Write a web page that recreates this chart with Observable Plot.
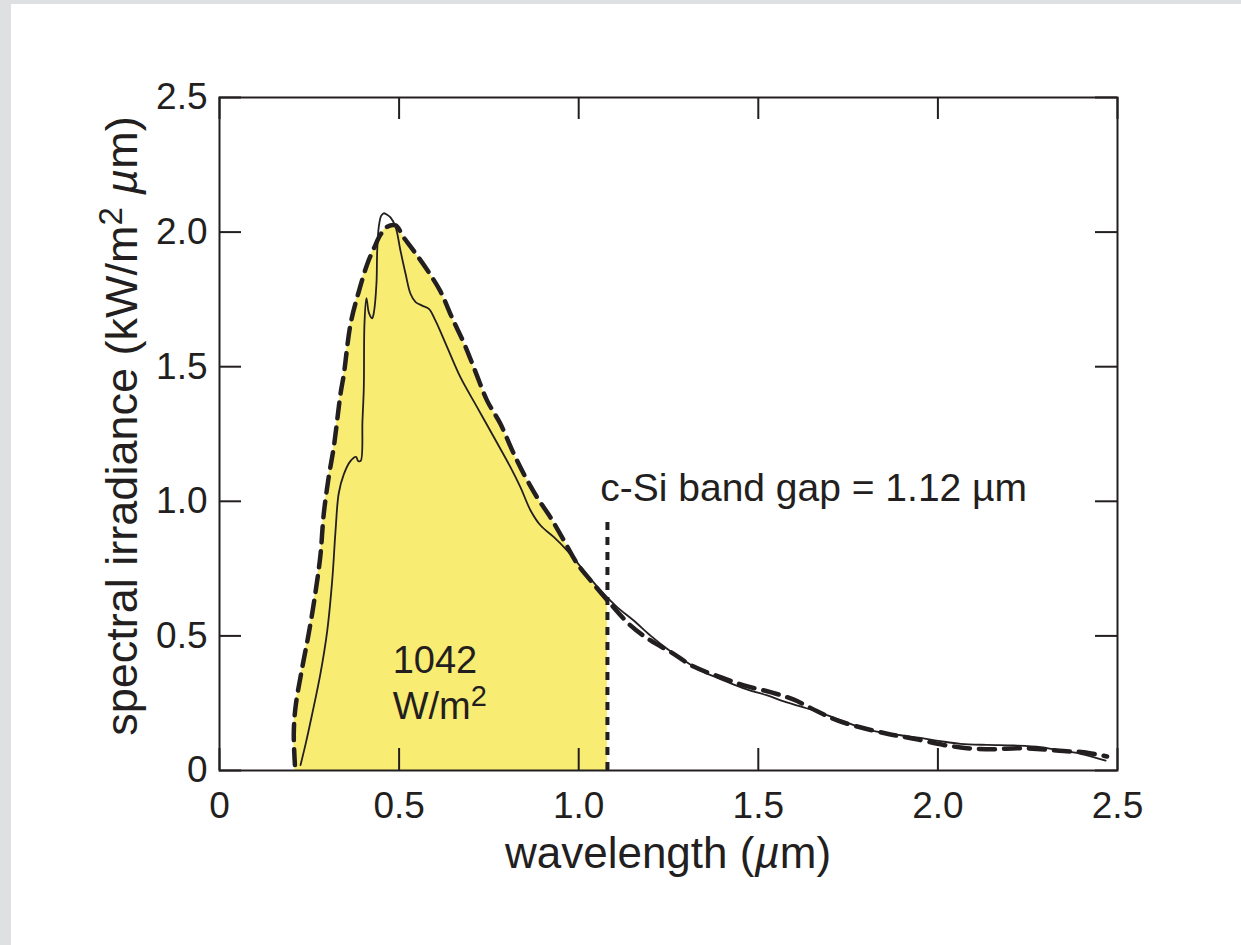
<!DOCTYPE html>
<html><head><meta charset="utf-8">
<script src="https://cdn.jsdelivr.net/npm/d3@7"></script>
<script src="https://cdn.jsdelivr.net/npm/@observablehq/plot@0.6"></script>
<style>
html,body{margin:0;padding:0;background:#dfe0e1;width:1241px;height:945px;overflow:hidden;}
#wrap{position:absolute;left:11px;top:4px;width:1230px;height:941px;background:#fff;}
svg{display:block}
</style></head><body><div id="wrap"></div>
<script>
// ---- data ----
const solidWavelength = [0.2255,0.240,0.258,0.281,0.300,0.314,0.323,0.332,0.346,0.365,0.380,0.386,0.393,0.398,0.4017,0.4036,0.409,0.416,0.425,0.4296,0.437,0.439,0.4435,0.450,0.457,0.466,0.476,0.490,0.504,0.518,0.532,0.546,0.564,0.583,0.601,0.634,0.671,0.717,0.764,0.810,0.838,0.866,0.894,0.931,0.968,1.014,1.061,1.107,1.153,1.200,1.246,1.293,1.339,1.386,1.432,1.478,1.525,1.571,1.617,1.664,1.710,1.757,1.803,1.849,1.896,1.952,2.007,2.063,2.137,2.211,2.286,2.341,2.397,2.467];
const solidIrradiance = [0.02,0.10,0.21,0.36,0.52,0.71,0.89,1.03,1.10,1.15,1.165,1.15,1.15,1.30,1.42,1.66,1.755,1.70,1.68,1.70,1.81,1.93,2.02,2.06,2.07,2.065,2.055,2.02,1.93,1.845,1.77,1.74,1.727,1.715,1.672,1.572,1.46,1.35,1.238,1.127,1.052,0.966,0.910,0.867,0.817,0.743,0.669,0.607,0.557,0.501,0.452,0.409,0.371,0.344,0.319,0.297,0.279,0.257,0.238,0.219,0.196,0.173,0.152,0.140,0.131,0.121,0.109,0.099,0.095,0.093,0.087,0.074,0.062,0.037];

const dashedWavelength = [0.210,0.2068,0.2116,0.230,0.2486,0.267,0.281,0.290,0.304,0.318,0.337,0.346,0.365,0.388,0.411,0.430,0.448,0.467,0.490,0.513,0.541,0.578,0.615,0.648,0.683,0.713,0.745,0.782,0.815,0.847,0.884,0.921,0.959,0.996,1.033,1.080,1.144,1.200,1.256,1.320,1.395,1.460,1.534,1.599,1.664,1.720,1.794,1.868,1.933,2.016,2.081,2.156,2.221,2.286,2.350,2.406,2.471];
const dashedIrradiance = [0.02,0.136,0.235,0.38,0.51,0.66,0.80,0.95,1.09,1.20,1.40,1.47,1.66,1.78,1.88,1.94,1.99,2.02,2.025,1.98,1.93,1.86,1.78,1.68,1.58,1.48,1.374,1.288,1.189,1.102,1.015,0.941,0.854,0.768,0.706,0.632,0.539,0.483,0.44,0.386,0.347,0.316,0.291,0.263,0.22,0.186,0.157,0.134,0.118,0.095,0.083,0.079,0.083,0.079,0.072,0.068,0.052];

const bandGapPosition = [1.08];
const bandGapTop = 0.93;

const xTicks = [0, 0.5, 1.0, 1.5, 2.0, 2.5];
const xTickLabels = ["0", "0.5", "1.0", "1.5", "2.0", "2.5"];
const yTicks = [0, 0.5, 1.0, 1.5, 2.0, 2.5];
const yTickLabels = ["0", "0.5", "1.0", "1.5", "2.0", "2.5"];

const noteText = ["c-Si band gap = 1.12 µm", "1042", "W/m2"];
const noteX = [1.06, 0.482, 0.482];
const noteY = [1.0, 0.364, 0.19];
const noteSize = [39, 38, 38];

// ---- build tables ----
const solid = solidWavelength.map((x, i) => ({x, y: solidIrradiance[i]}));
const dashed = dashedWavelength.map((x, i) => ({x, y: dashedIrradiance[i]}));
const filled = dashed.filter(d => d.x <= bandGapPosition[0]);
const notes = noteText.map((t, i) => ({t, x: noteX[i], y: noteY[i], s: noteSize[i]}));

const ink = "#231f20";
const W = 1230, H = 941, mL = 208, mR = 124, mT = 93, mB = 175;
const plotW = W - mL - mR, plotH = H - mT - mB;
const tickLen = 22;

const chart = Plot.plot({
  width: W, height: H,
  marginLeft: mL, marginRight: mR, marginTop: mT, marginBottom: mB,
  x: {domain: [0, 2.5]},
  y: {domain: [0, 2.5]},
  style: {fontFamily: "'Liberation Sans', Arial, sans-serif", color: ink, background: "transparent", overflow: "visible"},
  marks: [
    Plot.areaY(filled, {x: "x", y: "y", fill: "#f9ec73", curve: "catmull-rom"}),
    Plot.line(solid, {x: "x", y: "y", stroke: ink, strokeWidth: 1.8, curve: "catmull-rom"}),
    Plot.line(dashed, {x: "x", y: "y", stroke: ink, strokeWidth: 4.5, strokeDasharray: "16,9", curve: "catmull-rom"}),
    Plot.ruleX(bandGapPosition, {x: d => d, y1: 0, y2: bandGapTop, stroke: ink, strokeWidth: 4, strokeDasharray: "8,7"}),
    Plot.frame({stroke: ink, strokeWidth: 2}),
    Plot.tickX(xTicks, {x: d => d, insetTop: plotH - tickLen, stroke: ink, strokeWidth: 2}),
    Plot.tickX(xTicks, {x: d => d, insetBottom: plotH - tickLen, stroke: ink, strokeWidth: 2}),
    Plot.tickY(yTicks, {y: d => d, insetRight: plotW - tickLen, stroke: ink, strokeWidth: 2}),
    Plot.tickY(yTicks, {y: d => d, insetLeft: plotW - tickLen, stroke: ink, strokeWidth: 2}),
    Plot.axisX({ticks: xTicks, tickSize: 0, tickPadding: 21, fontSize: 37, label: null,
      tickFormat: d => xTickLabels[xTicks.indexOf(d)]}),
    Plot.axisY({ticks: yTicks, tickSize: 0, tickPadding: 12, fontSize: 37, label: null,
      tickFormat: d => yTickLabels[yTicks.indexOf(d)]}),
    Plot.text(notes, {x: "x", y: "y", text: "t", textAnchor: "start", lineAnchor: "bottom", fontSize: "s", fill: ink})
  ]
});

document.getElementById("wrap").appendChild(chart);

const svg = d3.select(chart);
svg.selectAll("text").each(function() {
  if (this.textContent === "W/m2") {
    this.innerHTML = 'W/m<tspan font-size="29" dy="-13">2</tspan>';
  }
});

svg.append("text")
  .attr("x", 668 - 11).attr("y", 868 - 4)
  .attr("text-anchor", "middle")
  .attr("font-size", 44).attr("fill", ink)
  .html('wavelength (<tspan font-style="italic">µ</tspan>m)');

svg.append("text")
  .attr("transform", `translate(${137 - 11},${426 - 4}) rotate(-90)`)
  .attr("text-anchor", "middle")
  .attr("font-size", 45).attr("fill", ink)
  .html('spectral irradiance (kW/m<tspan font-size="33" dy="-15">2</tspan><tspan dy="15"> </tspan><tspan font-style="italic">µ</tspan>m)');
</script></body></html>
